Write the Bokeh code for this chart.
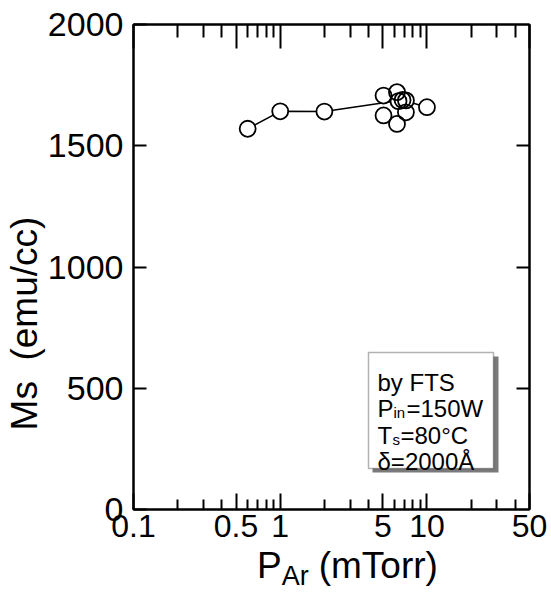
from bokeh.embed import file_html
from bokeh.resources import INLINE
from bokeh.plotting import figure
from bokeh.layouts import column
from bokeh.models import (LogAxis, LinearAxis, FixedTicker, Label,
                          BoxAnnotation, Range1d, Div, CustomJSTickFormatter)

# Ar pressure (mTorr) and saturation magnetisation (emu/cc) of each film
p_ar = [0.6, 1.0, 2.0, 5.06, 6.25, 6.4, 6.82, 7.19, 5.06, 6.25, 7.19, 10.0]
ms = [1570, 1642, 1641, 1707, 1721, 1684, 1689, 1687, 1625, 1590, 1638, 1659]

# trend line through the series
trend_p = [0.6, 1.0, 2.0, 6.82, 10.0]
trend_ms = [1570, 1642, 1641, 1689, 1659]

x_major = [0.1, 0.5, 1, 5, 10, 50]
x_tick_labels = ["0.1", "0.5", "1", "5", "10", "50"]
x_minor = [0.2, 0.3, 0.4, 0.6, 0.7, 0.8, 0.9, 2, 3, 4, 6, 7, 8, 9, 20, 30, 40]
y_ticks = [0, 500, 1000, 1500, 2000]
y_tick_labels = ["0", "500", "1000", "1500", "2000"]

FONT = "Liberation Sans"
L, T, W, H = 133, 24, 396, 485   # plot frame on the page
FIG_H = 552                       # figure part; x title sits below it


def sx(px):
    return px - L


def sy(py):
    return T + H - py


p = figure(width=551, height=FIG_H, x_axis_type="log",
           x_range=Range1d(0.1, 50), y_range=Range1d(0, 2000),
           output_backend="svg", toolbar_location=None,
           min_border_left=L, min_border_right=551 - L - W,
           min_border_top=T, min_border_bottom=FIG_H - T - H)
p.grid.visible = False
p.outline_line_color = "black"
p.outline_line_width = 2
p.background_fill_color = "white"
p.border_fill_color = "white"

blank = CustomJSTickFormatter(code="return ''")


def style(ax, major_in, minor_in, label_size=None):
    ax.major_tick_in = major_in
    ax.major_tick_out = 0
    ax.minor_tick_in = minor_in
    ax.minor_tick_out = 0
    ax.axis_line_color = "black"
    ax.axis_line_width = 2
    ax.major_tick_line_width = 2
    ax.minor_tick_line_width = 2
    ax.major_tick_line_color = "black"
    ax.minor_tick_line_color = "black"
    if label_size:
        ax.major_label_text_font = FONT
        ax.major_label_text_font_size = label_size
        ax.major_label_text_color = "black"
    else:
        ax.formatter = blank
        ax.major_label_standoff = 0


bx = p.xaxis[0]
bx.ticker = FixedTicker(ticks=x_major, minor_ticks=x_minor)
bx.major_label_overrides = {float(t): s for t, s in zip(x_major, x_tick_labels)}
style(bx, 16, 10, "32px")
bx.major_label_standoff = 5

ly = p.yaxis[0]
ly.ticker = FixedTicker(ticks=y_ticks, minor_ticks=[])
ly.major_label_overrides = {float(t): s for t, s in zip(y_ticks, y_tick_labels)}
style(ly, 13, 0, "34px")
ly.major_label_standoff = 10
# trailing no-break spaces push the visible title down the axis
ly.axis_label = "Ms\u00a0\u00a0(emu/cc)" + "\u00a0" * 11
ly.axis_label_text_font = FONT
ly.axis_label_text_font_size = "37px"
ly.axis_label_text_font_style = "normal"
ly.axis_label_text_color = "black"
ly.axis_label_standoff = 0

tx = LogAxis(ticker=FixedTicker(ticks=x_major, minor_ticks=x_minor))
style(tx, 24, 13)
p.add_layout(tx, "above")

ry = LinearAxis(ticker=FixedTicker(ticks=y_ticks[1:-1], minor_ticks=[]))
style(ry, 13, 0)
p.add_layout(ry, "right")

# data
p.line(trend_p, trend_ms, line_color="black", line_width=1.5)
p.scatter(p_ar, ms, marker="circle", size=16, fill_color="white",
          line_color=None)
p.scatter(p_ar, ms, marker="circle", size=16, fill_color=None,
          line_color="black", line_width=1.8)


def txt(x, y, s, size):
    p.add_layout(Label(x=sx(x), y=sy(y), x_units="screen", y_units="screen",
                       text=s, text_font=FONT, text_font_size=size,
                       text_baseline="alphabetic", text_align="left",
                       text_color="black"))


# conditions box with drop shadow
p.add_layout(BoxAnnotation(left=sx(372), right=sx(498), top=sy(356),
                           bottom=sy(472), left_units="screen",
                           right_units="screen", top_units="screen",
                           bottom_units="screen", fill_color="#7a7a7a",
                           fill_alpha=1, line_color=None))
p.add_layout(BoxAnnotation(left=sx(368), right=sx(493), top=sy(352),
                           bottom=sy(468), left_units="screen",
                           right_units="screen", top_units="screen",
                           bottom_units="screen", fill_color="white",
                           fill_alpha=1, line_color="black", line_width=1.5))

txt(377, 382, "by FTS", "24px")
txt(377, 408, "P", "24px")
txt(393, 412, "in", "15px")
txt(406, 408, "=150W", "24px")
txt(377, 435, "T", "24px")
txt(392, 439, "s", "15px")
txt(400, 435, "=80°C", "24px")
txt(377, 461, "δ=2000Å", "24px")

# x axis title with subscript
xtitle = Div(
    text=('<div style="margin-left:257px;white-space:nowrap;">P'
          '<span style="font-size:27px;vertical-align:-7px;">Ar</span>'
          '<span style="margin-left:10px;">(mTorr)</span></div>'),
    width=551, height=593 - FIG_H, margin=0,
    styles={"font-family": FONT, "font-size": "37px", "line-height": "28px",
            "color": "black", "background-color": "white",
            "overflow": "visible"})

page = column(p, xtitle, spacing=0)
open("out.html", "w").write(file_html(page, INLINE))
